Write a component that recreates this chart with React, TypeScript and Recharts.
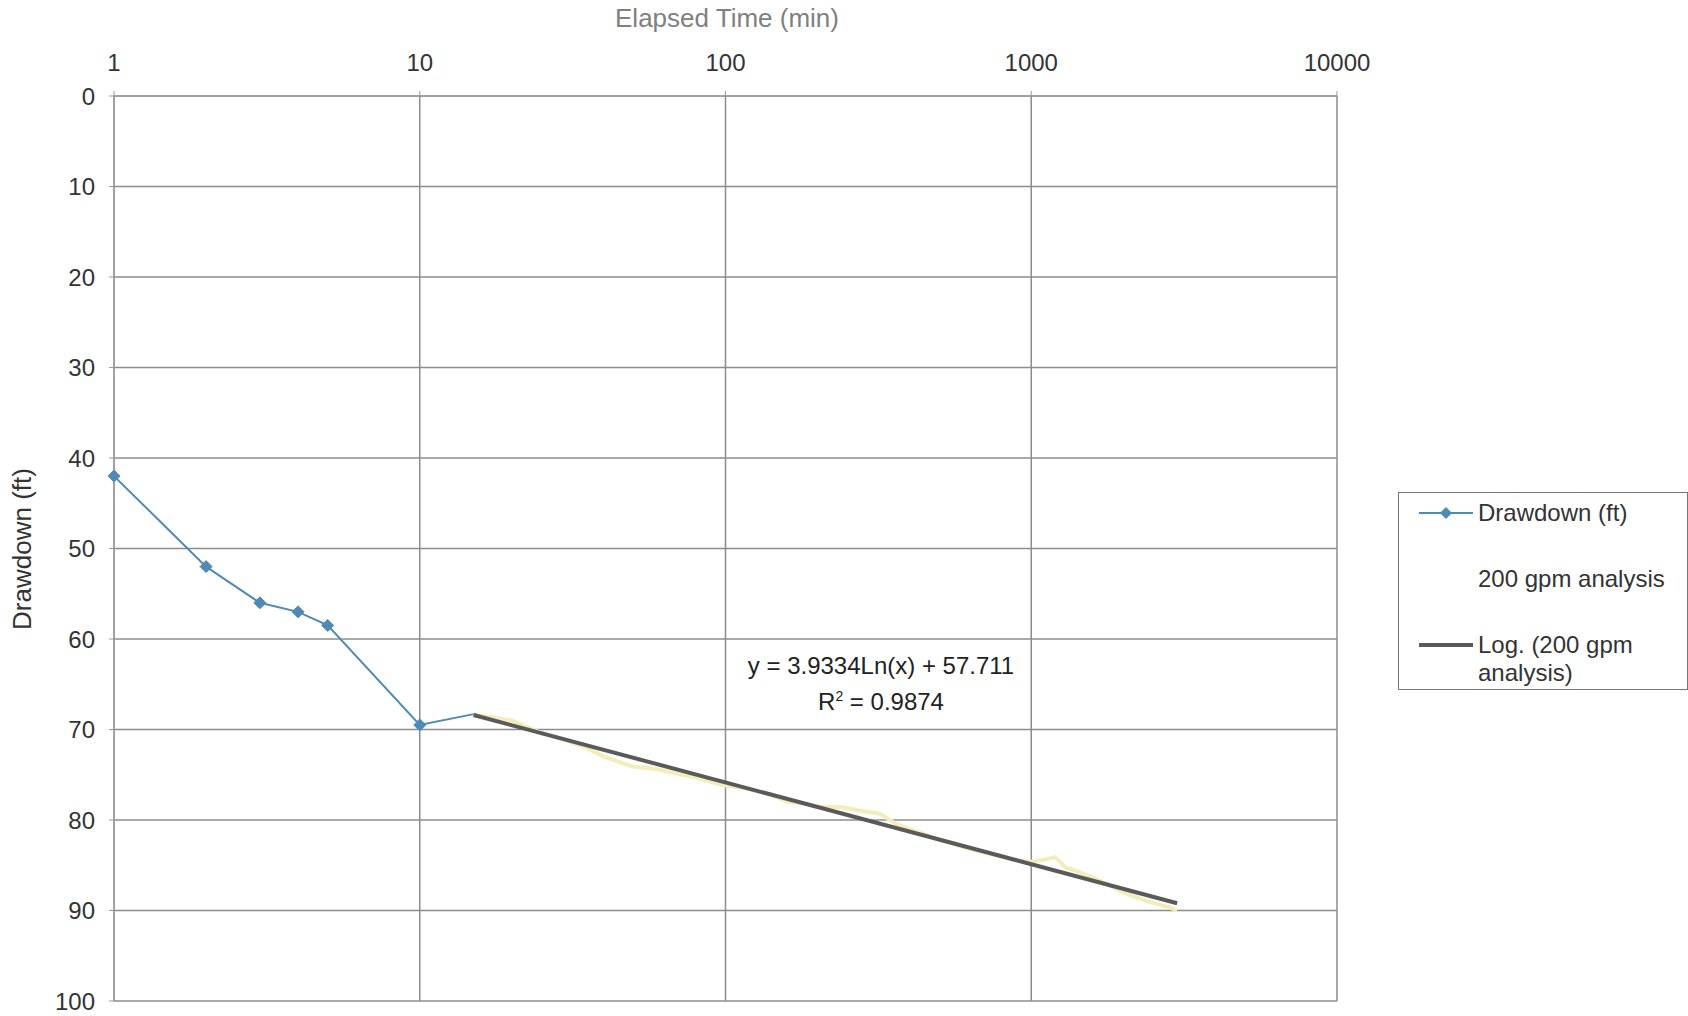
import { LineChart, Line, XAxis, YAxis, CartesianGrid } from 'recharts';

// Drawdown (ft) measured series
const drawdownTime = [1, 2, 3, 4, 5, 10, 15];
const drawdownFt = [42, 52, 56, 57, 58.5, 69.5, 68.3];

// 200 gpm analysis series (pale, mostly under the trendline)
const analysisTime = [15, 20, 25, 30, 35, 40, 45, 50, 60, 70, 80, 90, 100, 120, 140, 160, 180, 200, 240, 280, 320, 360, 400, 450, 500, 550, 600, 700, 800, 900, 1000, 1100, 1200, 1300, 1400, 1500, 1700, 2000, 2400, 2800, 3000];
const analysisFt = [68.3, 69.0, 70.4, 71.2, 72.0, 73.0, 73.6, 74.1, 74.4, 74.9, 75.3, 75.8, 76.2, 76.6, 77.2, 78.0, 78.2, 78.5, 78.6, 79.0, 79.3, 80.4, 81.0, 81.6, 82.2, 82.6, 83.0, 83.6, 84.1, 84.5, 84.6, 84.4, 84.1, 85.3, 85.6, 86.0, 86.8, 88.0, 89.0, 89.6, 90.0];

// Log. trendline end points
const trendTime = [15, 3000];
const trendFt = [68.4, 89.2];

const xTicks = [1, 10, 100, 1000, 10000];
const yTicks = [0, 10, 20, 30, 40, 50, 60, 70, 80, 90, 100];

const equationText = 'y = 3.9334Ln(x) + 57.711';
const rSquaredText = '0.9874';

const toRows = (xs: number[], ys: number[]) => xs.map((x, i) => ({ x, y: ys[i] }));
const drawdownData = toRows(drawdownTime, drawdownFt);
const analysisData = toRows(analysisTime, analysisFt);
const trendData = toRows(trendTime, trendFt);

const BLUE = '#4f8ab5';
const YELLOW = '#f4edbb';
const TREND = '#5a5a5a';
const FONT = '"Liberation Sans", Arial, sans-serif';

function Diamond(props: any) {
  const { cx, cy, index } = props;
  if (index === drawdownData.length - 1 || cx == null) return <g key={`d${index}`} />;
  const r = 6;
  return (
    <path
      key={`d${index}`}
      d={`M${cx},${cy - r}L${cx + r},${cy}L${cx},${cy + r}L${cx - r},${cy}Z`}
      fill={BLUE}
      stroke={BLUE}
    />
  );
}

function LegendBox() {
  const row = { position: 'absolute' as const, left: 79, whiteSpace: 'nowrap' as const };
  return (
    <div
      style={{
        position: 'absolute',
        left: 1398,
        top: 492,
        width: 288,
        height: 196,
        border: '1px solid #777',
        background: '#fff',
        fontFamily: FONT,
        fontSize: 24,
        color: '#333',
        lineHeight: '28px',
      }}
    >
      <svg width={60} height={196} style={{ position: 'absolute', left: 18, top: 0 }}>
        <line x1={2} x2={56} y1={20} y2={20} stroke={BLUE} strokeWidth={2} />
        <path d="M29,14L35,20L29,26L23,20Z" fill={BLUE} />
        <line x1={2} x2={56} y1={152} y2={152} stroke={TREND} strokeWidth={4} />
      </svg>
      <div style={{ ...row, top: 6 }}>Drawdown (ft)</div>
      <div style={{ ...row, top: 72 }}>200 gpm analysis</div>
      <div style={{ ...row, top: 138 }}>Log. (200 gpm<br />analysis)</div>
    </div>
  );
}

export default function App() {
  return (
    <div style={{ position: 'fixed', left: 0, top: 0, width: 1688, height: 1016, background: '#fff', fontFamily: FONT }}>
      <div
        style={{
          position: 'absolute',
          left: 0,
          width: 1454,
          top: 3,
          textAlign: 'center',
          fontSize: 26,
          color: '#808080',
        }}
      >
        Elapsed Time (min)
      </div>
      <div
        style={{
          position: 'absolute',
          left: 22,
          top: 549,
          transform: 'translate(-50%, -50%) rotate(-90deg)',
          whiteSpace: 'nowrap',
          fontSize: 26,
          color: '#333',
        }}
      >
        Drawdown (ft)
      </div>
      <LineChart
        width={1688}
        height={1016}
        margin={{ top: 66, right: 351, bottom: 15, left: 54 }}
        style={{ fontFamily: FONT }}
      >
        <CartesianGrid stroke="#8c8c8c" strokeWidth={1.5} />
        <XAxis
          dataKey="x"
          type="number"
          scale="log"
          domain={[1, 10000]}
          ticks={xTicks}
          orientation="top"
          height={30}
          stroke="#999"
          tickSize={5}
          tickMargin={20}
          tick={{ fill: '#333', fontSize: 24 }}
        />
        <YAxis
          type="number"
          reversed
          domain={[0, 100]}
          ticks={yTicks}
          width={60}
          stroke="#999"
          tickSize={5}
          tickMargin={14}
          tick={{ fill: '#333', fontSize: 24 }}
        />
        <Line
          data={analysisData}
          dataKey="y"
          name="200 gpm analysis"
          stroke={YELLOW}
          strokeWidth={4}
          dot={false}
          isAnimationActive={false}
        />
        <Line
          data={drawdownData}
          dataKey="y"
          name="Drawdown (ft)"
          stroke={BLUE}
          strokeWidth={2}
          dot={Diamond}
          isAnimationActive={false}
        />
        <Line
          data={trendData}
          dataKey="y"
          name="Log. (200 gpm analysis)"
          stroke={TREND}
          strokeWidth={4}
          dot={false}
          isAnimationActive={false}
        />
      </LineChart>
      <LegendBox />
      <div
        style={{
          position: 'absolute',
          left: 881,
          top: 650,
          transform: 'translateX(-50%)',
          textAlign: 'center',
          fontSize: 24,
          color: '#222',
          lineHeight: '31px',
          whiteSpace: 'nowrap',
        }}
      >
        {equationText}
        <br />
        R<sup style={{ fontSize: 14 }}>2</sup> = {rSquaredText}
      </div>
    </div>
  );
}
